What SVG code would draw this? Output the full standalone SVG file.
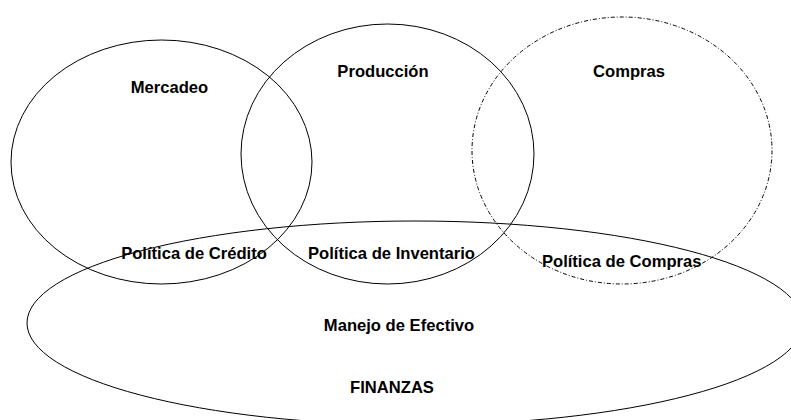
<svg xmlns="http://www.w3.org/2000/svg" width="791" height="420" viewBox="0 0 791 420">
<style>
.sh{fill:none;stroke:#000;stroke-width:1}
.dd{stroke-dasharray:4 2 1 2}
text{font-family:"Liberation Sans",Arial,sans-serif;font-weight:bold;font-size:16.6px;fill:#000;text-anchor:middle}
</style>
<rect width="791" height="420" fill="#fff"/>
<g id="mercadeo">
<ellipse class="sh" cx="161.5" cy="162" rx="150.5" ry="122"/>
<text x="169.5" y="93">Mercadeo</text>
</g>
<g id="produccion">
<ellipse class="sh" cx="387.5" cy="154" rx="146.5" ry="130"/>
<text x="383" y="77">Producción</text>
</g>
<g id="compras">
<ellipse class="sh dd" cx="622" cy="150.5" rx="150" ry="133.5"/>
<text x="629" y="77">Compras</text>
</g>
<g id="finanzas">
<ellipse class="sh" cx="415" cy="323" rx="388" ry="102"/>
<text x="399" y="331">Manejo de Efectivo</text>
<text x="392" y="393">FINANZAS</text>
</g>
<g id="intersections">
<text x="194" y="259">Política de Crédito</text>
<text x="391.5" y="259">Política de Inventario</text>
<text x="621.7" y="267">Política de Compras</text>
</g>
</svg>
